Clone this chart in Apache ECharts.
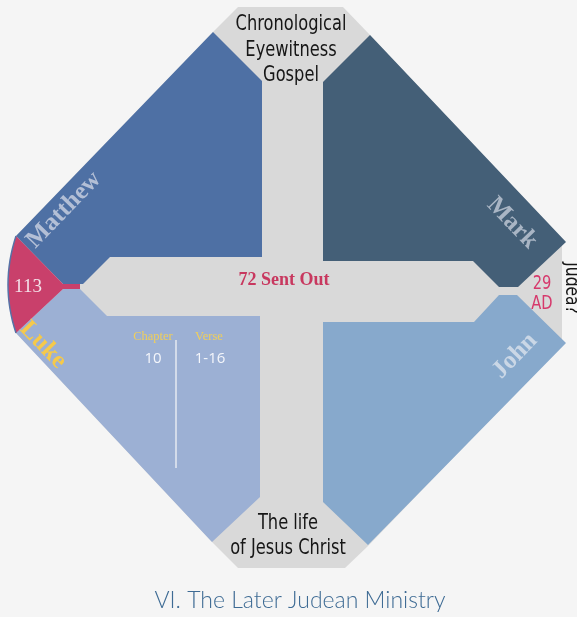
<!DOCTYPE html>
<html><head><meta charset="utf-8">
<script src="https://cdn.jsdelivr.net/npm/echarts@6/dist/echarts.min.js"></script>
<style>html,body{margin:0;padding:0;background:#f5f5f5}#c{width:577px;height:617px}</style>
</head><body><div id="c"></div>
<script>
const gospels = ['Matthew', 'Mark', 'Luke', 'John'];
const topLines = ['Chronological', 'Eyewitness', 'Gospel'];
const bottomLines = ['The life', 'of Jesus Christ'];
const eventName = '72 Sent Out';
const sectionNo = '113';
const yearLines = ['29', 'AD'];
const place = 'Judea?';
const refHeaders = ['Chapter', 'Verse'];
const refValues = ['10', '1-16'];
const title = 'VI. The Later Judean Ministry';

const C = {
  bg: '#f5f5f5', gray: '#d9d9d9', matthew: '#4e70a4', mark: '#445f77',
  luke: '#9cb0d4', john: '#87a9cc', red: '#c9406b'
};

function arcPoints() {
  const p0 = [16, 236], c = [0, 285], p1 = [16, 333], pts = [];
  for (let i = 0; i <= 16; i++) {
    const t = i / 16, u = 1 - t;
    pts.push([u * u * p0[0] + 2 * u * t * c[0] + t * t * p1[0], u * u * p0[1] + 2 * u * t * c[1] + t * t * p1[1]]);
  }
  return pts;
}
const arc = arcPoints();

function txt(text, x, y, o) {
  return {
    type: 'text', x: x, y: y, rotation: o.rot || 0, scaleX: o.sx || 1, z: 10,
    style: {
      text: text, fill: o.fill, fontSize: o.size, fontFamily: o.family,
      fontWeight: o.weight || 'normal', align: 'center', verticalAlign: 'middle',
      textAlign: 'center', textVerticalAlign: 'middle'
    }
  };
}
const SANS_N = '"DejaVu Sans Condensed", "DejaVu Sans", sans-serif';
const SERIF = '"Liberation Serif", serif';
const D = Math.PI / 180;
const NX = 0.86;

const els = [
  { type: 'polygon', shape: { points: [[238,7],[343,7],[370,35],[562,240],[562,345],[368,546],[345,568],[238,568],[212,542],[16,333],[16,236],[213,32]] }, style: { fill: C.gray } },
  { type: 'polygon', shape: { points: [[213,32],[262,81],[262,257],[110,257],[83,284],[63,284],[16,236]] }, style: { fill: C.matthew } },
  { type: 'polygon', shape: { points: [[370,35],[566,242],[518,287],[499,287],[473,261],[323,261],[323,82]] }, style: { fill: C.mark } },
  { type: 'polygon', shape: { points: [[63,289],[80,289],[107,316],[260,316],[260,497],[212,542],[16,333]] }, style: { fill: C.luke } },
  { type: 'polygon', shape: { points: [[323,322],[474,322],[499,295],[517,295],[566,343],[368,545],[323,502]] }, style: { fill: C.john } },
  { type: 'polygon', shape: { points: arc.concat([[63,289],[80,289],[80,284],[63,284]]) }, style: { fill: C.red } },
  { type: 'polyline', shape: { points: arc }, style: { stroke: '#5672a6', lineWidth: 1.5, fill: null } },
  { type: 'line', shape: { x1: 176, y1: 340, x2: 176, y2: 468 }, style: { stroke: '#e6eaf2', lineWidth: 1.5 } }
];

topLines.forEach((t, i) => els.push(txt(t, 291, 25 + i * 25.5, { fill: '#161616', size: 21, family: SANS_N, sx: NX })));
bottomLines.forEach((t, i) => els.push(txt(t, 288, 524 + i * 25, { fill: '#161616', size: 21, family: SANS_N, sx: NX })));
yearLines.forEach((t, i) => els.push(txt(t, 542, 284 + i * 20, { fill: '#d6396c', size: 19, family: SANS_N, sx: NX })));
els.push(txt(place, 571, 288, { fill: '#161616', size: 20, family: SANS_N, rot: -90 * D, sx: NX }));
els.push(txt(eventName, 284, 280, { fill: '#c8385f', size: 18, family: SERIF, weight: 'bold' }));
els.push(txt(sectionNo, 28, 287, { fill: '#f3e1e9', size: 19, family: SERIF }));
els.push(txt(gospels[0], 64, 210, { fill: '#b3bfd6', size: 25, family: SERIF, weight: 'bold', rot: 46 * D }));
els.push(txt(gospels[1], 512, 223, { fill: '#a9b5c4', size: 25, family: SERIF, weight: 'bold', rot: -46 * D }));
els.push(txt(gospels[2], 43, 345, { fill: '#f5c94a', size: 25, family: SERIF, weight: 'bold', rot: -46 * D }));
els.push(txt(gospels[3], 515, 356, { fill: '#cad7e6', size: 25, family: SERIF, weight: 'bold', rot: 46 * D }));
refHeaders.forEach((t, i) => els.push(txt(t, [153, 209][i], 337, { fill: '#f0cf5a', size: 12.5, family: SERIF })));
refValues.forEach((t, i) => els.push(txt(t, [153, 210][i], 359, { fill: '#f4f6fb', size: 15, family: '"Open Sans", sans-serif' })));
els.push(txt(title, 300, 601, { fill: '#3e6b94', size: 23, family: 'Lato, sans-serif', weight: 300 }));

const chart = echarts.init(document.getElementById('c'));
chart.setOption({ backgroundColor: C.bg, animation: false, graphic: { elements: els } });
</script></body></html>
